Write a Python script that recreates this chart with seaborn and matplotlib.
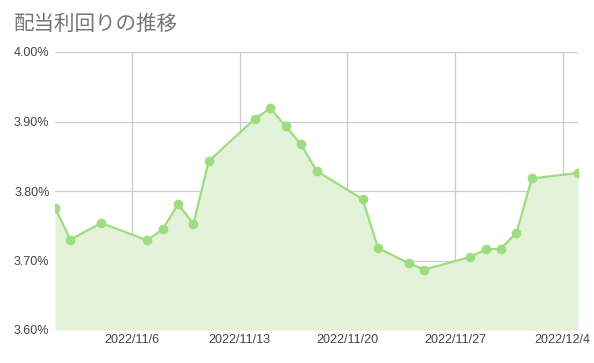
import matplotlib
matplotlib.use("Agg")
import matplotlib.pyplot as plt
import matplotlib.dates as mdates
import matplotlib.ticker as mticker
import seaborn as sns
import pandas as pd

dates = ["2022-11-01", "2022-11-02", "2022-11-04", "2022-11-07", "2022-11-08",
         "2022-11-09", "2022-11-10", "2022-11-11", "2022-11-14", "2022-11-15",
         "2022-11-16", "2022-11-17", "2022-11-18", "2022-11-21", "2022-11-22",
         "2022-11-24", "2022-11-25", "2022-11-28", "2022-11-29", "2022-11-30",
         "2022-12-01", "2022-12-02", "2022-12-05"]
yields = [3.776, 3.730, 3.754, 3.729, 3.745, 3.781, 3.753, 3.843, 3.904, 3.919,
          3.893, 3.867, 3.829, 3.788, 3.718, 3.696, 3.687, 3.705, 3.716, 3.717,
          3.740, 3.818, 3.826]
tick_dates = ["2022-11-06", "2022-11-13", "2022-11-20", "2022-11-27", "2022-12-04"]
tick_labels = ["2022/11/6", "2022/11/13", "2022/11/20", "2022/11/27", "2022/12/4"]
y_ticks = [3.60, 3.70, 3.80, 3.90, 4.00]
title = "配当利回りの推移"

df = pd.DataFrame({"date": pd.to_datetime(dates), "yield": yields})

sns.set_style("white")
plt.rcParams["font.family"] = ["Liberation Sans", "Noto Sans CJK JP", "DejaVu Sans"]

fig = plt.figure(figsize=(5.94, 3.63), dpi=100)
ax = fig.add_axes([55 / 594, 1 - 330 / 363, (578 - 55) / 594, (330 - 52) / 363])

line_c = "#9ddd80"
fill_c = "#e2f3da"
ax.fill_between(df["date"], df["yield"], 3.60, color=fill_c, lw=0, zorder=1)
sns.lineplot(data=df, x="date", y="yield", ax=ax, color=line_c, lw=1.6,
             marker="o", markersize=7, markeredgewidth=0, zorder=3)

ax.set_xlim(pd.Timestamp("2022-11-01"), pd.Timestamp("2022-12-05"))
ax.set_ylim(3.60, 4.00)
ax.set_yticks(y_ticks)
ax.yaxis.set_major_formatter(mticker.FuncFormatter(lambda v, p: f"{v:.2f}%"))
ax.set_xticks(pd.to_datetime(tick_dates))
ax.set_xticklabels(tick_labels)
ax.grid(True, color="#cccccc", lw=0.9, zorder=0)
ax.set_axisbelow(True)
for s in ax.spines.values():
    s.set_visible(False)
ax.tick_params(axis="both", length=0, labelsize=9, labelcolor="#444444")
ax.tick_params(axis="y", pad=4)
ax.tick_params(axis="x", pad=3)
ax.set_xlabel("")
ax.set_ylabel("")

fig.text(14 / 594, 1 - 24 / 363, title, fontsize=14.8, color="#757575",
         family=["Noto Sans CJK JP", "DejaVu Sans"], va="center", ha="left")

fig.savefig("out.png", dpi=100)
